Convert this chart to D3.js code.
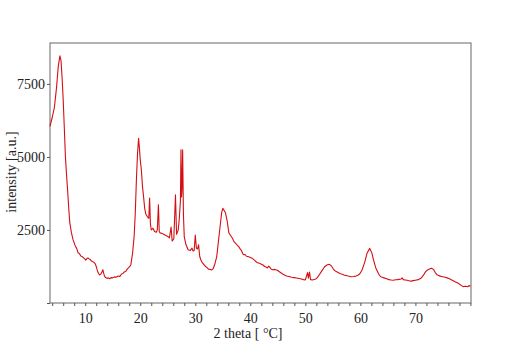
<!DOCTYPE html>
<html>
<head>
<meta charset="utf-8">
<script src="https://cdn.jsdelivr.net/npm/d3@7"></script>
<style>
  body { margin: 0; background: #fff; }
  svg { display: block; }
  .axis text { font-family: "Liberation Serif", "Times New Roman", serif; font-size: 14px; fill: #222; }
  .axis path, .axis line { stroke: #555; }
</style>
</head>
<body>
<div id="chart"></div>
<script>
// diffraction pattern: 2 theta (deg) / intensity (a.u.)
const twoTheta = [
  3.6, 4.0, 4.4, 4.8, 5.1, 5.4, 5.6, 5.8, 6.0, 6.2, 6.4, 6.6, 6.8, 7.0, 7.2, 7.5, 7.8,
  8.2, 8.45, 8.7, 8.95, 9.2, 9.45, 9.7, 9.95, 10.1, 10.3, 10.5, 10.7, 10.9, 11.1, 11.3, 11.5, 11.7, 11.85,
  12.0, 12.15, 12.3, 12.45, 12.6, 12.8, 13.0, 13.2, 13.35, 13.5, 13.7, 13.95, 14.2, 14.45, 14.7, 15.0,
  15.3, 15.6, 16.0, 16.3, 16.6, 16.85, 17.1, 17.35, 17.6, 17.8, 18.0, 18.15, 18.3,
  18.6, 18.9, 19.1, 19.3, 19.5, 19.7, 19.85, 20.0, 20.2, 20.4, 20.6, 20.8, 21.0, 21.3, 21.55, 21.7, 21.85, 22.0,
  22.3, 22.6, 22.9, 23.1, 23.3, 23.45, 23.6, 24.0, 24.5, 25.0, 25.3, 25.6, 25.8, 26.1, 26.4, 26.6, 26.9, 27.1, 27.3, 27.4,
  27.5, 27.6, 27.7, 27.85, 28.0, 28.3, 28.7, 29.1, 29.4, 29.6, 29.8, 30.0, 30.2, 30.4, 30.6,
  30.8, 31.0, 31.2, 31.5, 31.8, 32.1, 32.4, 32.7, 33.0, 33.25,
  33.5, 33.9, 34.2, 34.5, 34.8, 35.0, 35.3, 35.5, 35.8, 36.1,
  36.35, 36.6, 36.8, 37.0, 37.25, 37.5, 37.7, 37.9, 38.15, 38.4, 38.6, 38.8, 39.05, 39.3, 39.7, 40.1, 40.4, 40.8, 41.05,
  41.3, 41.65, 42.0, 42.3, 42.6, 42.85, 43.1, 43.35, 43.6, 43.8, 44.0, 44.45, 44.9, 45.35, 45.8, 46.2, 46.6, 47.05,
  47.5, 47.95, 48.4, 48.85, 49.3, 49.65, 50.0,
  50.4, 50.55, 50.75, 50.95, 51.3, 52.0, 52.3, 53.0, 53.5, 54.0, 54.4, 54.8,
  55.2, 55.5, 55.8, 56.1, 56.4, 56.7, 57.0, 57.3, 57.6, 57.95, 58.3, 58.75, 59.2, 59.55, 59.9,
  60.3, 60.8, 61.2, 61.7, 62.1, 62.4, 62.8,
  63.3, 63.5, 63.7, 64.0, 64.3, 64.75, 65.2, 65.6, 66.0, 66.35, 66.7, 67.05, 67.4, 67.6, 67.8, 68.15, 68.5, 68.85,
  69.2, 69.6, 70.0, 70.5, 71.0, 71.25, 71.5, 71.7, 71.9, 72.15, 72.4, 72.65, 72.9, 73.1, 73.3, 73.6, 73.9, 74.2,
  74.5, 74.95, 75.4, 75.75, 76.1, 76.35, 76.6, 77.2, 77.8, 78.25, 78.7, 79.1, 79.5, 79.8, 80.0
]
const intensity = [
  6050, 6350, 6700, 7400, 8100, 8460, 8300, 7700, 6950, 6000, 5010, 4400, 3870, 3250, 2740, 2400, 2160,
  1950, 1870, 1720, 1690, 1610, 1590, 1545, 1500, 1470, 1520, 1540, 1510, 1495, 1440, 1425, 1400, 1370, 1330,
  1250, 1150, 1060, 1000, 960, 990, 1040, 1140, 1020, 920, 870, 850, 860, 830, 870, 860,
  895, 880, 925, 910, 995, 1010, 1065, 1080, 1150, 1190, 1235, 1260, 1320,
  1700, 2300, 3100, 4210, 5100, 5640, 5300, 4900, 4560, 4000, 3640, 3250, 3050, 2950, 2900, 3590, 2700, 2500,
  2560, 2450, 2420, 2500, 3360, 2450, 2400, 2380, 2330, 2280, 2230, 2600, 2120, 2200, 3700, 2350, 2500, 2900, 3500, 5240,
  3630, 4000, 5240, 3000, 2260, 2000, 1820, 1800, 1880, 1780, 1800, 2330, 1880, 1850, 1990,
  1600, 1480, 1400, 1330, 1260, 1220, 1160, 1150, 1130, 1180,
  1300, 1590, 2100, 2610, 3100, 3240, 3150, 3080, 2800, 2400,
  2330, 2260, 2200, 2110, 2060, 2010, 1960, 1930, 1850, 1790, 1700, 1650, 1660, 1600, 1580, 1545, 1520, 1460, 1410,
  1375, 1360, 1330, 1300, 1250, 1230, 1200, 1260, 1210, 1160, 1140, 1150, 1120, 1060, 1000, 960, 925, 905,
  880, 870, 855, 840, 820, 800, 790,
  1040, 850, 1060, 800, 790, 830, 900, 1100, 1240, 1310, 1325, 1250,
  1130, 1090, 1060, 1030, 1000, 985, 960, 945, 930, 915, 900, 905, 920, 950, 1000,
  1130, 1400, 1700, 1870, 1700, 1470, 1200,
  1000, 940, 900, 880, 860, 830, 800, 785, 780, 795, 800, 810, 820, 860, 800, 790, 780, 760,
  750, 765, 780, 800, 845, 900, 960, 1030, 1080, 1120, 1150, 1170, 1190, 1175, 1150, 1040, 970, 945,
  920, 900, 880, 860, 840, 815, 790, 730, 675, 610, 560, 575, 555, 600, 570
]
const yTicks = [0, 2500, 5000, 7500]
const xTickLabels = [10, 20, 30, 40, 50, 60, 70]
const xMinorTicks = d3.range(4, 81, 2)

const width = 514
const height = 342
const margin = { top: 43, right: 43, bottom: 39, left: 50 }
const plotW = width - margin.left - margin.right
const plotH = height - margin.top - margin.bottom

const svg = d3.select('#chart').append('svg')
  .attr('width', width)
  .attr('height', height)

const g = svg.append('g')
  .attr('transform', `translate(${margin.left},${margin.top})`)

const x = d3.scaleLinear().domain([3.6, 80.1]).range([0, plotW])
const y = d3.scaleLinear().domain([0, 8900]).range([plotH, 0])

// frame
g.append('rect')
  .attr('width', plotW)
  .attr('height', plotH)
  .attr('fill', 'none')
  .attr('stroke', '#666')
  .attr('stroke-width', 1)

// x axis: small ticks every 2 deg, labels every 10
const xAxis = g.append('g')
  .attr('class', 'axis')
  .attr('transform', `translate(0,${plotH})`)
  .call(d3.axisBottom(x).tickValues(xMinorTicks).tickSize(3).tickFormat(''))
xAxis.select('.domain').remove()

const xLabels = g.append('g')
  .attr('class', 'axis')
  .attr('transform', `translate(0,${plotH})`)
  .call(d3.axisBottom(x).tickValues(xTickLabels).tickSize(0).tickPadding(10).tickFormat(d3.format('d')))
xLabels.select('.domain').remove()

// y axis
const yAxis = g.append('g')
  .attr('class', 'axis')
  .call(d3.axisLeft(y).tickValues(yTicks).tickSize(3).tickPadding(2)
    .tickFormat(d => d === 0 ? '' : d))
yAxis.select('.domain').remove()

// pattern
const points = twoTheta.map((t, i) => [t, intensity[i]])
g.append('path')
  .datum(points)
  .attr('fill', 'none')
  .attr('stroke', '#d40f14')
  .attr('stroke-width', 1.1)
  .attr('stroke-linejoin', 'round')
  .attr('d', d3.line().x(d => x(d[0])).y(d => y(d[1])))

// axis titles
svg.append('text')
  .attr('x', 248)
  .attr('y', 338)
  .attr('text-anchor', 'middle')
  .style('font-family', '"Liberation Serif", "Times New Roman", serif')
  .style('font-size', '14px')
  .attr('fill', '#222')
  .text('2 theta [ °C]')

svg.append('text')
  .attr('transform', 'translate(16,172) rotate(-90)')
  .attr('text-anchor', 'middle')
  .style('font-family', '"Liberation Serif", "Times New Roman", serif')
  .style('font-size', '14px')
  .attr('fill', '#222')
  .text('intensity [a.u.]')
</script>
</body>
</html>
